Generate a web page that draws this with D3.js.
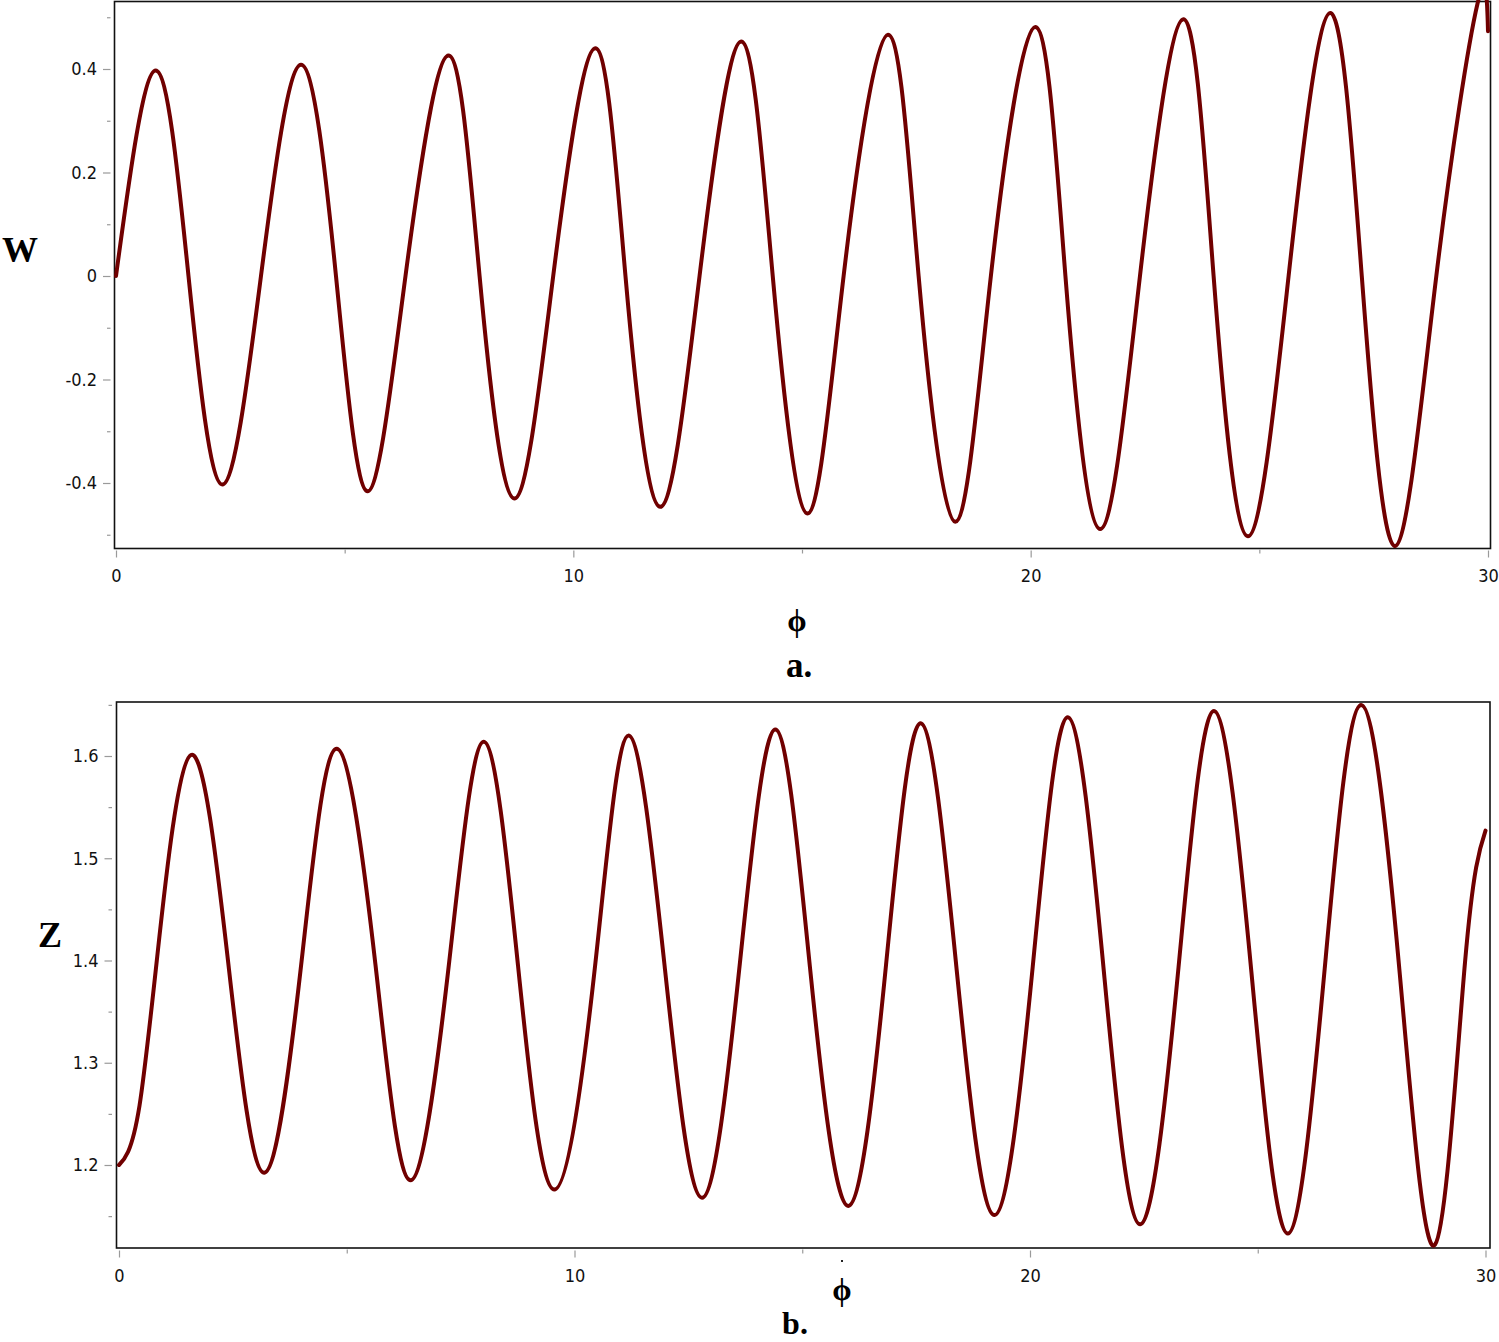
<!DOCTYPE html>
<html>
<head>
<meta charset="utf-8">
<script src="https://cdn.jsdelivr.net/npm/d3@7"></script>
<style>
  html, body { margin: 0; padding: 0; background: #fff; }
  svg { display: block; }
</style>
</head>
<body>
<svg id="chart" width="1499" height="1342"></svg>
<script>
// ---------- data ----------
// Panel a: W versus phi (extrema and zero crossings)
const W_PHI = [0, 0.868, 1.585, 2.325, 3.17, 4.045, 4.81, 5.50, 6.33, 7.27, 7.95, 8.71, 9.56, 10.48, 11.14, 11.90, 12.76, 13.67, 14.36, 15.12, 15.91, 16.88, 17.55, 18.35, 19.13, 20.10, 20.76, 21.52, 22.39, 23.34, 24.00, 24.75, 25.64, 26.55, 27.24, 27.97, 28.87, 29.77, 30.0];
const W_VAL = [0, 0.397, 0, -0.403, 0, 0.408, 0, -0.416, 0, 0.426, 0, -0.430, 0, 0.440, 0, -0.446, 0, 0.453, 0, -0.459, 0, 0.466, 0, -0.475, 0, 0.481, 0, -0.489, 0, 0.496, 0, -0.503, 0, 0.508, 0, -0.522, 0, 0.526, 0.473];

// Panel b: Z versus phi (extrema and mid-level crossings)
const Z_PHI = [0, 0.2, 0.45, 0.83, 1.58, 2.40, 3.19, 4.01, 4.78, 5.63, 6.40, 7.25, 8.01, 8.76, 9.56, 10.46, 11.19, 11.98, 12.80, 13.63, 14.41, 15.17, 16.01, 16.84, 17.60, 18.39, 19.22, 20.06, 20.83, 21.62, 22.42, 23.26, 24.04, 24.86, 25.66, 26.47, 27.27, 28.12, 28.89, 29.55, 30.0];
const Z_VAL = [1.200, 1.213, 1.258, 1.400, 1.601, 1.397, 1.1925, 1.400, 1.607, 1.396, 1.185, 1.399, 1.614, 1.395, 1.176, 1.398, 1.620, 1.394, 1.168, 1.397, 1.626, 1.393, 1.160, 1.396, 1.632, 1.391, 1.151, 1.394, 1.638, 1.390, 1.142, 1.393, 1.644, 1.389, 1.133, 1.392, 1.650, 1.386, 1.122, 1.398, 1.527];

// Ticks
const X_TICKS = [0, 10, 20, 30];
const X_TICK_LABELS = ["0", "10", "20", "30"];
const X_MINOR = [5, 15, 25];
const W_TICKS = [-0.4, -0.2, 0, 0.2, 0.4];
const W_TICK_LABELS = ["-0.4", "-0.2", "0", "0.2", "0.4"];
const W_MINOR = [-0.5, -0.3, -0.1, 0.1, 0.3, 0.5];
const Z_TICKS = [1.2, 1.3, 1.4, 1.5, 1.6];
const Z_TICK_LABELS = ["1.2", "1.3", "1.4", "1.5", "1.6"];
const Z_MINOR = [1.15, 1.25, 1.35, 1.45, 1.55, 1.65];

// Titles
const X_TITLE = "\u03D5";
const W_TITLE = "W";
const Z_TITLE = "Z";
const CAPTIONS = ["a.", "b."];

// ---------- drawing ----------
const svg = d3.select("#chart");
svg.append("rect").attr("width", 1499).attr("height", 1342).attr("fill", "#fff");

const LINE_COLOR = "#700000";
const TICK_COLOR = "#9a9a9a";
const TICK_FONT = "'DejaVu Sans Condensed', 'DejaVu Sans', sans-serif";
const TITLE_FONT = "'Liberation Serif', 'Times New Roman', serif";

function panel(cfg) {
  const g = svg.append("g");
  const x = d3.scaleLinear().domain([0, 30]).range(cfg.xRange);
  const y = d3.scaleLinear().domain(cfg.yDomain).range(cfg.yRange);

  // frame
  g.append("rect")
    .attr("x", cfg.box[0]).attr("y", cfg.box[1])
    .attr("width", cfg.box[2] - cfg.box[0]).attr("height", cfg.box[3] - cfg.box[1])
    .attr("fill", "none").attr("stroke", "#111").attr("stroke-width", 1.6);

  // y axis major
  const yAx = g.append("g").attr("transform", `translate(${cfg.yAxisX},0)`)
    .call(d3.axisLeft(y).tickValues(cfg.yTicks).tickSize(7.5).tickPadding(6)
      .tickFormat((d, i) => cfg.yLabels[i]));
  yAx.select(".domain").remove();
  yAx.selectAll("line").attr("stroke", TICK_COLOR).attr("stroke-width", 1.2);
  yAx.selectAll("text").attr("font-family", TICK_FONT).attr("font-size", 18).attr("fill", "#111");
  // y axis minor
  const yMin = g.append("g").attr("transform", `translate(${cfg.yAxisX},0)`)
    .call(d3.axisLeft(y).tickValues(cfg.yMinor).tickSize(3.5).tickFormat(""));
  yMin.select(".domain").remove();
  yMin.selectAll("line").attr("stroke", TICK_COLOR).attr("stroke-width", 1.2);

  // x axis major
  const xAx = g.append("g").attr("transform", `translate(0,${cfg.xAxisY})`)
    .call(d3.axisBottom(x).tickValues(X_TICKS).tickSize(7).tickPadding(12)
      .tickFormat((d, i) => X_TICK_LABELS[i]));
  xAx.select(".domain").remove();
  xAx.selectAll("line").attr("stroke", TICK_COLOR).attr("stroke-width", 1.2);
  xAx.selectAll("text").attr("font-family", TICK_FONT).attr("font-size", 18).attr("fill", "#111");
  const xMin = g.append("g").attr("transform", `translate(0,${cfg.xAxisY - 1})`)
    .call(d3.axisBottom(x).tickValues(X_MINOR).tickSize(4).tickFormat(""));
  xMin.select(".domain").remove();
  xMin.selectAll("line").attr("stroke", TICK_COLOR).attr("stroke-width", 1.2);

  // curve
  const line = d3.line().x(d => x(d[0])).y(d => y(d[1])).curve(d3.curveNatural);
  g.append("path").datum(d3.zip(cfg.phi, cfg.val))
    .attr("d", line).attr("fill", "none")
    .attr("stroke", LINE_COLOR).attr("stroke-width", 4)
    .attr("stroke-linejoin", "round").attr("stroke-linecap", "round");

  // titles
  g.append("text").text(cfg.yTitle)
    .attr("x", cfg.yTitlePos[0]).attr("y", cfg.yTitlePos[1])
    .attr("text-anchor", "middle").attr("font-family", TITLE_FONT)
    .attr("font-weight", "bold").attr("font-size", 36).attr("fill", "#000");
  g.append("text").text(X_TITLE)
    .attr("x", cfg.xTitlePos[0]).attr("y", cfg.xTitlePos[1])
    .attr("text-anchor", "middle").attr("font-family", TITLE_FONT)
    .attr("font-weight", "bold").attr("font-size", 31).attr("fill", "#000");
  g.append("text").text(cfg.caption)
    .attr("x", cfg.captionPos[0]).attr("y", cfg.captionPos[1])
    .attr("text-anchor", "middle").attr("font-family", TITLE_FONT)
    .attr("font-weight", "bold").attr("font-size", cfg.captionSize).attr("fill", "#000");
  return g;
}

panel({
  phi: W_PHI, val: W_VAL,
  xRange: [116, 1488],
  yDomain: [-0.4, 0.4], yRange: [483, 69],
  box: [114.5, 1.5, 1490.5, 548.5],
  yAxisX: 110.5, xAxisY: 550.5,
  yTicks: W_TICKS, yLabels: W_TICK_LABELS, yMinor: W_MINOR,
  yTitle: W_TITLE, yTitlePos: [20, 262],
  xTitlePos: [797, 631],
  caption: CAPTIONS[0], captionPos: [799, 677], captionSize: 35
});

const pb = panel({
  phi: Z_PHI, val: Z_VAL,
  xRange: [119, 1485.5],
  yDomain: [1.2, 1.6], yRange: [1165, 756],
  box: [116.5, 702, 1490, 1248],
  yAxisX: 112, xAxisY: 1250.5,
  yTicks: Z_TICKS, yLabels: Z_TICK_LABELS, yMinor: Z_MINOR,
  yTitle: Z_TITLE, yTitlePos: [50, 947],
  xTitlePos: [842, 1300],
  caption: CAPTIONS[1], captionPos: [795, 1334], captionSize: 32
});
// small stray dot above the lower phi label
pb.append("rect").attr("x", 841).attr("y", 1260).attr("width", 2).attr("height", 2).attr("fill", "#222");
</script>
</body>
</html>
